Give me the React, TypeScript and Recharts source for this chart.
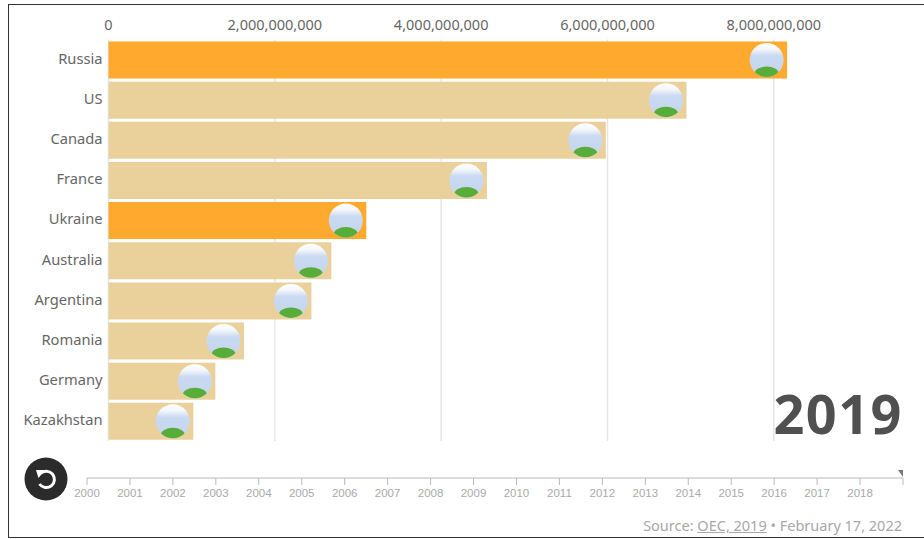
import React from "react";
import {
  BarChart,
  Bar,
  Cell,
  CartesianGrid,
  LabelList,
  Line,
  LineChart,
  XAxis,
  YAxis,
} from "recharts";

const countries = ["Russia", "US", "Canada", "France", "Ukraine", "Australia", "Argentina", "Romania", "Germany", "Kazakhstan"];
const exportValues = [8160000000, 6950000000, 5980000000, 4550000000, 3100000000, 2680000000, 2440000000, 1630000000, 1285000000, 1020000000];
const highlighted = ["Russia", "Ukraine"];
const valueTicks = [0, 2000000000, 4000000000, 6000000000, 8000000000];
const years = [2000, 2001, 2002, 2003, 2004, 2005, 2006, 2007, 2008, 2009, 2010, 2011, 2012, 2013, 2014, 2015, 2016, 2017, 2018, 2019];
const currentYear = 2019;

const ORANGE = "#ffa726";
const TAN = "#e9cf98";
const FONT = "'Noto Sans', 'Open Sans', sans-serif";

const chartData = countries.map((country, i) => ({ country, value: exportValues[i] }));
const timelineData = years.map((year) => ({ year, handle: year === currentYear ? 1 : null }));

// round flag badge pinned to the inside end of each bar
const FlagBadge = (props: any) => {
  const { x, y, width, height, index } = props;
  const cx = x + width - 20.5;
  const cy = y + height / 2;
  const clipId = `flag-clip-${index}`;
  return (
    <g>
      <defs>
        <clipPath id={clipId}>
          <circle cx={cx} cy={cy} r={17} />
        </clipPath>
      </defs>
      <circle cx={cx} cy={cy} r={17} fill="url(#flagSky)" />
      <g clipPath={`url(#${clipId})`}>
        <ellipse cx={cx} cy={cy + 13.5} rx={12} ry={7} fill="#58ad3a" />
        <path d={`M${cx + 8} ${cy - 17} L${cx + 17} ${cy - 17} L${cx + 15} ${cy - 9} Z`} fill="#b0b0b0" />
      </g>
    </g>
  );
};

const TimelineTick = (props: any) => {
  const { x, y, payload } = props;
  if (payload.value === currentYear) return null;
  return (
    <text x={x} y={y + 10} textAnchor="middle" fontSize={11.5} fontFamily="'Liberation Sans', Arial, sans-serif" fill="#aaaaaa">
      {payload.value}
    </text>
  );
};

// small flag on the timeline showing the current year
const TimelineHandle = (props: any) => {
  const { cx, cy, payload } = props;
  if (payload.handle == null) return <g key={payload.year} />;
  return <path key={payload.year} d={`M${cx - 5} ${cy + 4} L${cx} ${cy + 4} L${cx} ${cy + 11} Z`} fill="#777777" />;
};

const ReplayButton = () => (
  <svg width={46} height={46} style={{ position: "absolute", left: 23, top: 456 }}>
    <circle cx={23} cy={23} r={21.5} fill="#2b2b2b" />
    <path d="M17.5 17.5 A8.2 8.2 0 1 1 16.5 28" fill="none" stroke="#fff" strokeWidth={3} />
    <path d="M13 14 L22 14 L15.5 22 Z" fill="#fff" />
  </svg>
);

const App = () => {
  return (
    <div style={{ position: "absolute", left: 0, top: 0, width: 924, height: 539, background: "#fff", overflow: "hidden" }}>
      {/* frame, open on the right */}
      <div style={{ position: "absolute", left: 8, top: 4, width: 916, height: 534, borderLeft: "1.5px solid #333", borderTop: "1.5px solid #333", borderBottom: "1.5px solid #333", boxSizing: "border-box" }} />

      <div style={{ position: "absolute", left: 0, top: 0 }}>
        <BarChart
          width={924}
          height={441}
          data={chartData}
          layout="vertical"
          margin={{ top: 0, right: 67, bottom: 0, left: 0 }}
          barSize={37}
        >
          <defs>
            <linearGradient id="flagSky" x1="0" y1="0" x2="0" y2="1">
              <stop offset="0%" stopColor="#ffffff" />
              <stop offset="18%" stopColor="#f4f7fc" />
              <stop offset="38%" stopColor="#c9d9f1" />
              <stop offset="100%" stopColor="#c4d5ec" />
            </linearGradient>
          </defs>
          <CartesianGrid horizontal={false} verticalValues={valueTicks} stroke="#e6e6e6" strokeWidth={1.5} />
          <XAxis
            type="number"
            orientation="top"
            height={39.5}
            domain={[0, 9000000000]}
            ticks={valueTicks}
            tickFormatter={(v: number) => v.toLocaleString("en-US")}
            axisLine={false}
            tickLine={false}
            tickMargin={4}
            tick={{ fill: "#666666", fontSize: 14.5, fontFamily: FONT }}
          />
          <YAxis
            type="category"
            dataKey="country"
            width={108.5}
            axisLine={false}
            tickLine={false}
            tickMargin={0}
            interval={0}
            tick={{ fill: "#666666", fontSize: 14.7, fontFamily: FONT, dy: -1 }}
          />
          <Bar dataKey="value" isAnimationActive={false} fillOpacity={0.96}>
            {countries.map((country) => (
              <Cell key={country} fill={highlighted.includes(country) ? ORANGE : TAN} />
            ))}
            <LabelList dataKey="value" content={<FlagBadge />} />
          </Bar>
        </BarChart>
      </div>

      {/* year timeline */}
      <div style={{ position: "absolute", left: 0, top: 460 }}>
        <LineChart width={924} height={50} data={timelineData} margin={{ top: 6, right: 21, bottom: 0, left: 87 }}>
          <XAxis
            type="number"
            dataKey="year"
            orientation="bottom"
            height={32}
            domain={[2000, 2019]}
            ticks={years}
            interval={0}
            stroke="#bbbbbb"
            tickSize={7}
            tick={<TimelineTick />}
          />
          <YAxis hide domain={[0, 1]} />
          <Line dataKey="handle" stroke="none" isAnimationActive={false} dot={TimelineHandle} activeDot={false} />
        </LineChart>
      </div>

      <ReplayButton />

      <div style={{ position: "absolute", right: 21, top: 378, fontFamily: FONT, fontWeight: 700, fontSize: 54, letterSpacing: 1.5, lineHeight: "70px", color: "#505050" }}>
        {currentYear}
      </div>

      <div style={{ position: "absolute", right: 22, top: 515, fontFamily: FONT, fontSize: 14.5, lineHeight: "20px", color: "#a8a8a8" }}>
        Source: <span style={{ textDecoration: "underline" }}>OEC, 2019</span> • February 17, 2022
      </div>
    </div>
  );
};

export default App;
